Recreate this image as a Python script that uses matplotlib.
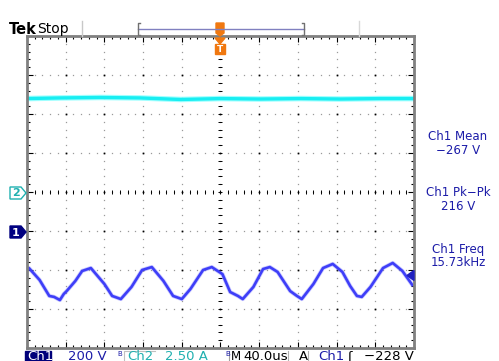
"""
Tek scope screen: Ch1 (blue, triangular ripple) + Ch2 (cyan, DC current).
Output: out.png (499x361)
"""
import matplotlib
matplotlib.use('Agg')
import matplotlib.pyplot as plt
from matplotlib.patches import Polygon, Rectangle
import numpy as np

# --- data ---------------------------------------------------------------
# Ch1: time (us) / volts
ch1_t = [0, 2, 13, 23, 28, 34, 38, 41, 50, 57,
         66, 80, 88, 97, 108, 119, 129, 141, 151, 160,
         169, 182, 191, 202, 210, 218, 223, 234, 244, 251,
         259, 272, 279, 284, 296, 306, 316, 326, 334, 341,
         346, 355, 368, 378, 388, 399]
ch1_v = [-195, -190, -251, -333, -338, -354, -323, -308, -256, -205,
         -190, -272, -333, -349, -287, -200, -185, -256, -333, -349,
         -297, -200, -185, -221, -313, -333, -349, -287, -195, -185,
         -210, -308, -333, -349, -272, -190, -169, -210, -282, -333,
         -338, -287, -190, -164, -205, -282]
# Ch2: time (us) / amps
ch2_t = [0, 34, 76, 117, 159, 200, 241, 283, 324, 365, 400]
ch2_a = [5.99, 6.03, 6.06, 6.03, 5.93, 5.99, 5.96, 5.99, 5.96, 5.99, 5.99]

# scope settings
ch1_scale, ch1_pos = 200.0, -1.0   # V/div, div
ch2_scale, ch2_pos = 2.5, 0.0      # A/div, div
time_scale = 40.0                  # us/div
trig_level = -228.0

meas_names = ['Ch1 Mean', 'Ch1 Pk\u2212Pk', 'Ch1 Freq']
meas_values = ['\u2212267 V', '216 V', '15.73kHz']

NAVY = '#1c1ca8'
TEAL = '#20b0b0'

W, H = 499, 361
fig = plt.figure(figsize=(W / 100, H / 100), dpi=100)
fig.patch.set_facecolor('white')

# graticule area in pixels: x 27..414, y 36..348
ax = fig.add_axes([27 / W, 1 - 348 / H, 387 / W, 312 / H])
ax.set_xlim(0, 10)
ax.set_ylim(-4, 4)
for s in ax.spines.values():
    s.set_color('#808080')
    s.set_linewidth(2)
ax.set_xticks(np.arange(0, 11, 1))
ax.set_yticks(np.arange(-4, 5, 1))
ax.set_xticks(np.arange(0, 10.01, 0.2), minor=True)
ax.set_yticks(np.arange(-4, 4.01, 0.2), minor=True)
ax.tick_params(which='both', direction='in', top=True, right=True,
               labelbottom=False, labelleft=False, color='black', width=0.8)
ax.tick_params(which='major', length=4)
ax.tick_params(which='minor', length=2)

# dotted graticule
minor_x = np.arange(0, 10.01, 0.2)
minor_y = np.arange(-4, 4.01, 0.2)
for gx in range(1, 10):
    ax.plot(np.full_like(minor_y, gx), minor_y, ls='none', marker='s',
            ms=0.9, mew=0, color='#9a9a9a')
for gy in range(-3, 4):
    ax.plot(minor_x, np.full_like(minor_x, gy), ls='none', marker='s',
            ms=0.9, mew=0, color='#9a9a9a')
gx, gy = np.meshgrid(np.arange(1, 10), np.arange(-3, 4))
ax.plot(gx.ravel(), gy.ravel(), ls='none', marker='s', ms=1.2, mew=0,
        color='black')
# centre cross with small ticks
ax.plot(minor_x, np.zeros_like(minor_x), ls='none', marker='|', ms=3,
        mew=0.7, color='black')
ax.plot(np.full_like(minor_y, 5), minor_y, ls='none', marker='_', ms=3,
        mew=0.7, color='black')

# traces
x1 = np.array(ch1_t) / time_scale
y1 = np.array(ch1_v) / ch1_scale + ch1_pos
x2 = np.array(ch2_t) / time_scale
y2 = np.array(ch2_a) / ch2_scale + ch2_pos
ax.plot(x2, y2, color='#40ffff', lw=4.0, alpha=0.5, solid_capstyle='butt')
ax.plot(x2, y2, color='#18eef2', lw=2.4, solid_capstyle='butt')
ax.plot(x1, y1, color='#6a6aff', lw=3.0, alpha=0.35, solid_capstyle='butt',
        solid_joinstyle='round')
ax.plot(x1, y1, color='#3e3ef8', lw=1.9, solid_capstyle='butt',
        solid_joinstyle='round')

# --- overlay in pixel coordinates ---------------------------------------
ov = fig.add_axes([0, 0, 1, 1], facecolor='none')
ov.set_xlim(0, W)
ov.set_ylim(H, 0)
ov.axis('off')

# header
ov.text(9, 29, 'Tek', fontsize=10.5, fontweight='bold', va='center',
        color='black')
ov.text(37, 29, 'Stop', fontsize=10, va='center', color='black')
ov.plot([82, 82], [21, 36], color='#c8c8c8', lw=1)
ov.plot([359, 359], [21, 36], color='#d8d8d8', lw=1)
ov.plot([138, 304], [29, 29], color='#8080c0', lw=1)
ov.plot([140, 138, 138, 140], [23, 23, 35, 35], color='#707070', lw=1)
ov.plot([302, 304, 304, 302], [23, 23, 35, 35], color='#707070', lw=1)
ORANGE = '#f07810'
ov.add_patch(Polygon([(216, 23), (224, 23), (224, 33), (220, 36), (216, 33)],
                     closed=True, color=ORANGE))
ov.add_patch(Polygon([(215, 38), (225, 38), (220, 44)], closed=True,
                     color=ORANGE))
ov.add_patch(Rectangle((215, 44), 10, 10, color=ORANGE))
ov.text(220, 49.5, 'T', fontsize=6.5, fontweight='bold', color='white',
        ha='center', va='center')

# channel ground markers
ov.add_patch(Polygon([(10, 187), (21, 187), (26, 193), (21, 199), (10, 199)],
                     closed=True, facecolor='white', edgecolor=TEAL, lw=1))
ov.text(16, 193.5, '2', fontsize=8, fontweight='bold', color=TEAL,
        ha='center', va='center')
ov.add_patch(Polygon([(10, 226), (21, 226), (26, 232), (21, 238), (10, 238)],
                     closed=True, facecolor='#000080', edgecolor='#000080'))
ov.text(16, 232.5, '1', fontsize=8, fontweight='bold', color='white',
        ha='center', va='center')
# trigger level arrow
ty = 192 - (trig_level / ch1_scale + ch1_pos) * 39
ov.add_patch(Polygon([(407, ty), (414, ty - 5), (414, ty + 5)], closed=True,
                     color='#2020c0'))

# measurements
for i, (nm, val) in enumerate(zip(meas_names, meas_values)):
    y0 = 137 + i * 56
    ov.text(458, y0, nm, fontsize=8.5, color=NAVY, ha='center', va='center')
    ov.text(458, y0 + 14, val, fontsize=8.5, color=NAVY, ha='center',
            va='center')

# status bar (cut off by the bottom edge, like the screenshot)
SB = 350.5
FS = 9.5
ov.add_patch(Rectangle((25, SB), 26, 14, color='#00007a'))
ov.text(27, SB, 'Ch1', fontsize=FS, color='white', va='top')
ov.text(68, SB, '200 V', fontsize=FS, color=NAVY, va='top')
ov.text(117, SB, 'B', fontsize=5, color=NAVY, va='top')
ov.plot([124, 124, 155], [362, SB, SB], color='#c0c0c0', lw=0.8)
ov.text(127, SB, 'Ch2', fontsize=FS, color=TEAL, va='top')
ov.text(165, SB, '2.50 A', fontsize=FS, color=TEAL, va='top')
ov.text(225, SB, 'B', fontsize=5, color=NAVY, va='top')
ov.plot([229.5, 229.5], [SB, 362], color='#a0a0a0', lw=0.8)
ov.text(230.5, SB, 'M', fontsize=8.5, color='black', va='top')
ov.text(243, SB, '40.0us', fontsize=FS, color='black', va='top')
ov.plot([288, 288], [SB, 362], color='#b0b0b0', lw=0.8)
ov.text(299, SB, 'A', fontsize=FS, color='black', va='top')
ov.plot([308, 308], [SB, 362], color='#b0b0b0', lw=0.8)
ov.text(318, SB, 'Ch1', fontsize=FS, color=NAVY, va='top')
ov.text(347, SB, '\u0283', fontsize=FS, color='black', va='top')
ov.text(414, SB, '\u2212228 V', fontsize=FS, color='black', va='top',
        ha='right')

fig.savefig('out.png', dpi=100)
